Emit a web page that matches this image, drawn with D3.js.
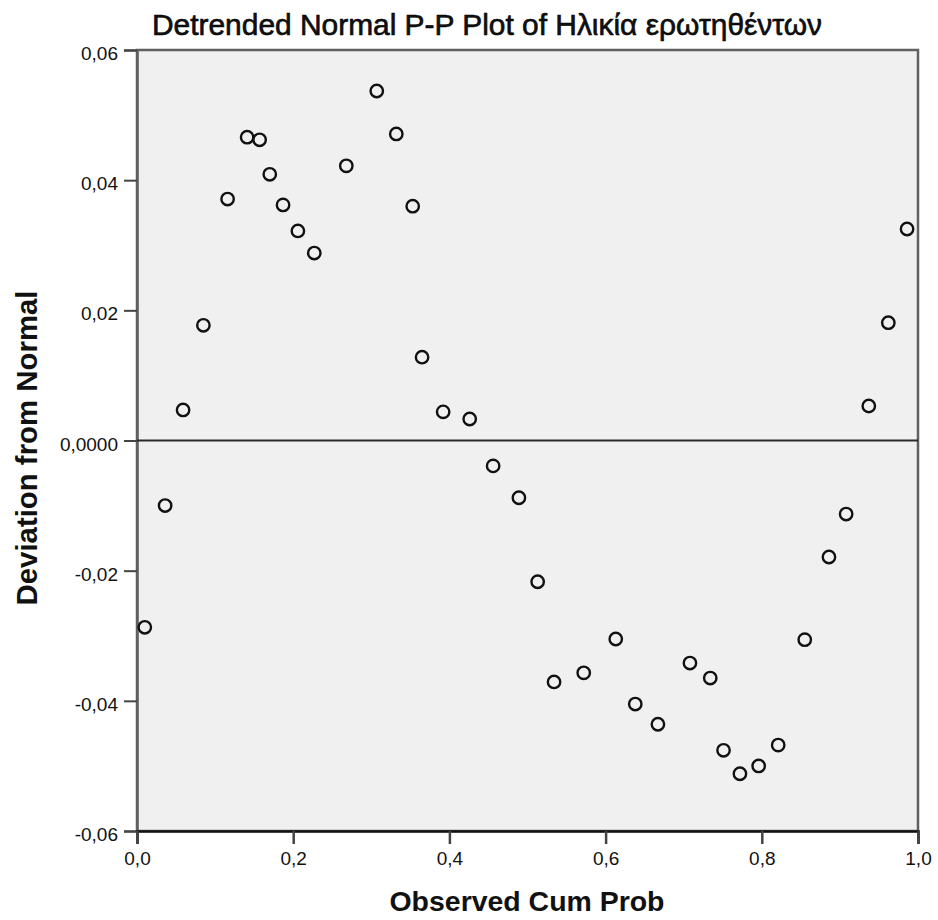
<!DOCTYPE html>
<html>
<head>
<meta charset="utf-8">
<script src="https://cdn.jsdelivr.net/npm/d3@7"></script>
<style>
  body { margin: 0; background: #fff; }
  text { font-family: "Liberation Sans", Arial, sans-serif; fill: #111; }
</style>
</head>
<body>
<div class="chart"></div>
<script>
// Observed cumulative probability and deviation from normal
var observed = [0.010, 0.036, 0.059, 0.085, 0.116, 0.141, 0.157, 0.170, 0.187, 0.206,
  0.227, 0.268, 0.307, 0.332, 0.353, 0.365, 0.392, 0.426, 0.456, 0.489,
  0.513, 0.534, 0.572, 0.613, 0.638, 0.667, 0.708, 0.734, 0.751, 0.772,
  0.796, 0.821, 0.855, 0.886, 0.908, 0.937, 0.962, 0.986];
var deviation = [-0.0287, -0.0100, 0.0047, 0.0177, 0.0371, 0.0466, 0.0462, 0.0409, 0.0362, 0.0322,
  0.0288, 0.0422, 0.0537, 0.0471, 0.0360, 0.0128, 0.0044, 0.0033, -0.0039, -0.0088,
  -0.0217, -0.0371, -0.0357, -0.0305, -0.0405, -0.0436, -0.0342, -0.0365, -0.0476, -0.0512,
  -0.0500, -0.0468, -0.0306, -0.0179, -0.0113, 0.0053, 0.0181, 0.0325];
var xTicks = [0, 0.2, 0.4, 0.6, 0.8, 1.0];
var yTicks = [-0.06, -0.04, -0.02, 0, 0.02, 0.04, 0.06];

var svgWidth = 938, svgHeight = 920;
var margin = {top: 50, right: 20, bottom: 89, left: 137};
var width = 918 - margin.left;
var height = svgHeight - margin.top - margin.bottom;

var locale = d3.formatLocale({decimal: ",", thousands: ".", grouping: [3], currency: ["", ""], minus: "-"});
var fx = locale.format(".1f");
var fy = locale.format(".2f");

var svg = d3.select(".chart").append("svg")
  .attr("width", svgWidth)
  .attr("height", svgHeight);

var chartGroup = svg.append("g")
  .attr("transform", `translate(${margin.left}, ${margin.top})`);

var x = d3.scaleLinear().domain([0, 1]).range([0, width]);
var y = d3.scaleLinear().domain([-0.06, 0.06]).range([height, 0]);

// plot background
chartGroup.append("rect")
  .attr("width", width)
  .attr("height", height)
  .attr("fill", "#f0f0f0")
  .attr("stroke", "#606060")
  .attr("stroke-width", 2.5);

// y axis
var leftAxis = d3.axisLeft(y).tickValues(yTicks).tickSize(13).tickPadding(6)
  .tickFormat(d => d === 0 ? "0,0000" : fy(d));
var gy = chartGroup.append("g").call(leftAxis);
gy.select(".domain").attr("stroke", "#606060").attr("stroke-width", 2.5);
gy.selectAll(".tick line").attr("stroke", "#444").attr("stroke-width", 2);
gy.selectAll(".tick text")
  .attr("font-size", 19).attr("font-family", "Liberation Sans, Arial, sans-serif")
  .attr("fill", "#333").attr("dy", "0.5em");

// x axis
var bottomAxis = d3.axisBottom(x).tickValues(xTicks).tickSize(13).tickPadding(8)
  .tickFormat(fx);
var gx = chartGroup.append("g")
  .attr("transform", `translate(0, ${height})`)
  .call(bottomAxis);
gx.select(".domain").attr("stroke", "#111").attr("stroke-width", 2.5);
gx.selectAll(".tick line").attr("stroke", "#444").attr("stroke-width", 2.5);
gx.selectAll(".tick text")
  .attr("font-size", 19).attr("font-family", "Liberation Sans, Arial, sans-serif")
  .attr("fill", "#333");

// zero reference line
chartGroup.append("line")
  .attr("x1", 0).attr("x2", width)
  .attr("y1", y(0)).attr("y2", y(0))
  .attr("stroke", "#2a2a2a")
  .attr("stroke-width", 2);

// points
chartGroup.selectAll("circle.pt")
  .data(observed)
  .enter()
  .append("circle")
  .attr("class", "pt")
  .attr("cx", (d, i) => x(d))
  .attr("cy", (d, i) => y(deviation[i]))
  .attr("r", 6.2)
  .attr("fill", "none")
  .attr("stroke", "#111")
  .attr("stroke-width", 2.4);

// title
svg.append("text")
  .attr("x", 152)
  .attr("y", 35)
  .attr("font-size", 30)
  .attr("fill", "#000")
  .attr("stroke", "#000")
  .attr("stroke-width", 0.6)
  .attr("textLength", 670)
  .attr("lengthAdjust", "spacingAndGlyphs")
  .text("Detrended Normal P-P Plot of Ηλικία ερωτηθέντων");

// x label
svg.append("text")
  .attr("x", 527)
  .attr("y", 911)
  .attr("text-anchor", "middle")
  .attr("font-size", 28)
  .attr("font-weight", "bold")
  .attr("textLength", 275)
  .attr("lengthAdjust", "spacingAndGlyphs")
  .text("Observed Cum Prob");

// y label
svg.append("text")
  .attr("transform", "translate(37, 448) rotate(-90)")
  .attr("text-anchor", "middle")
  .attr("font-size", 29)
  .attr("font-weight", "bold")
  .attr("textLength", 315)
  .attr("lengthAdjust", "spacingAndGlyphs")
  .text("Deviation from Normal");
</script>
</body>
</html>
